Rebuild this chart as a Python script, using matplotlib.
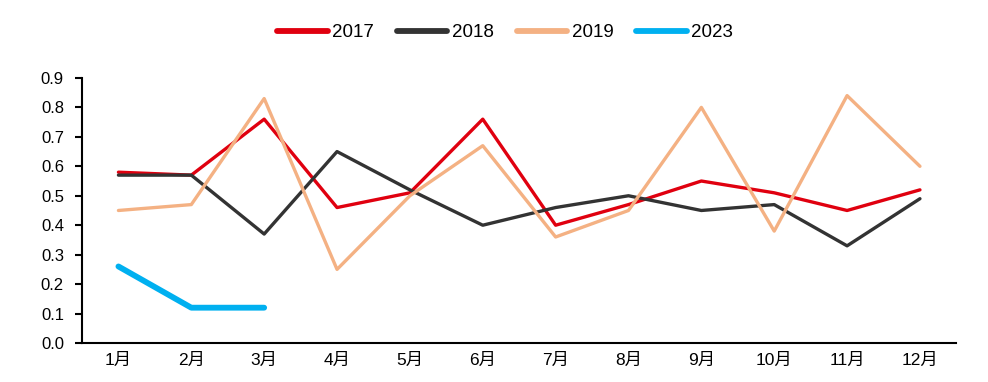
import matplotlib.pyplot as plt

plt.rcParams['font.family'] = ['Liberation Sans', 'Noto Sans CJK SC']

months = ['1月', '2月', '3月', '4月', '5月', '6月', '7月', '8月', '9月', '10月', '11月', '12月']
s2017 = [0.58, 0.57, 0.76, 0.46, 0.51, 0.76, 0.40, 0.47, 0.55, 0.51, 0.45, 0.52]
s2018 = [0.57, 0.57, 0.37, 0.65, 0.52, 0.40, 0.46, 0.50, 0.45, 0.47, 0.33, 0.49]
s2019 = [0.45, 0.47, 0.83, 0.25, 0.50, 0.67, 0.36, 0.45, 0.80, 0.38, 0.84, 0.60]
s2023 = [0.26, 0.12, 0.12]

fig = plt.figure(figsize=(9.88, 3.82), dpi=100)
ax = fig.add_axes([0.083, 0.102, 0.885, 0.694])

x = list(range(len(months)))
ax.plot(x, s2017, color='#E0000F', lw=2.4, label='2017', solid_capstyle='round')
ax.plot(x, s2018, color='#333333', lw=2.4, label='2018', solid_capstyle='round')
ax.plot(x, s2019, color='#F4B183', lw=2.4, label='2019', solid_capstyle='round')
ax.plot(x[:len(s2023)], s2023, color='#00B0F0', lw=4.2, label='2023', solid_capstyle='round')

ax.set_xlim(-0.5, 11.5)
ax.set_ylim(0, 0.9)
ax.set_yticks([i / 10 for i in range(10)])
ax.set_yticklabels([f'{i / 10:.1f}' for i in range(10)])
ax.set_xticks(x)
ax.set_xticklabels(months)
ax.tick_params(axis='x', length=0, labelsize=12.5, pad=7)
ax.tick_params(axis='y', length=5, width=1.5, labelsize=12, direction='out', pad=8)
for s in ['top', 'right']:
    ax.spines[s].set_visible(False)
ax.spines['left'].set_linewidth(1.5)
ax.spines['bottom'].set_linewidth(1.5)

leg = ax.legend(loc='center', bbox_to_anchor=(0.484, 1.17), ncol=4, frameon=False,
                fontsize=13.5, handlelength=2.7, columnspacing=1.2, handletextpad=0.25)
for line in leg.get_lines():
    line.set_linewidth(4.2)

fig.savefig('out.png', dpi=100)
